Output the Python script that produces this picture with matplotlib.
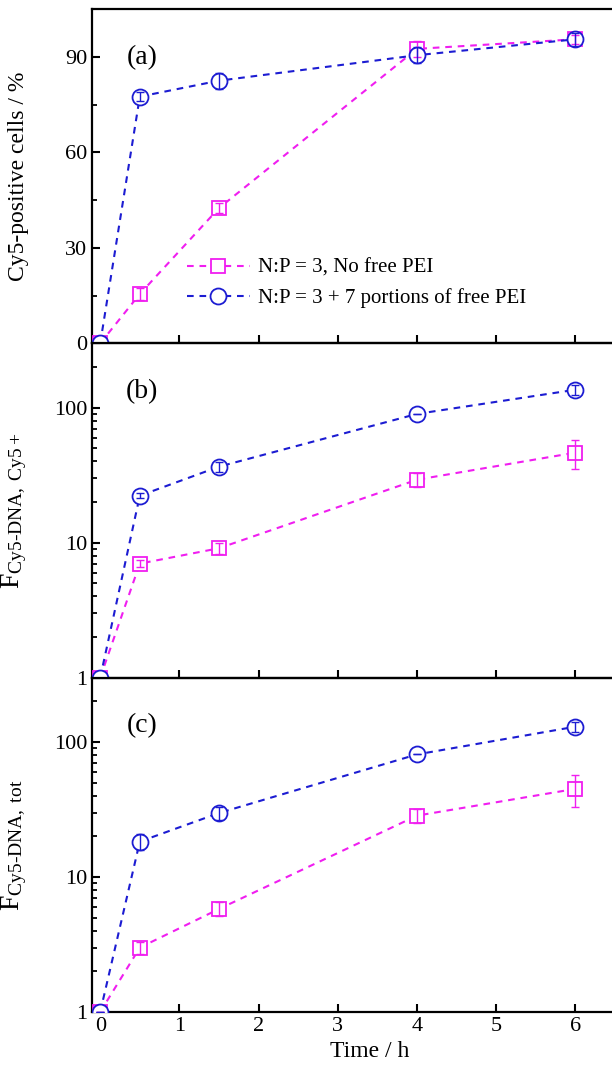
import matplotlib
matplotlib.use("Agg")
import matplotlib.pyplot as plt
from matplotlib.ticker import MultipleLocator, LogLocator, NullFormatter, FixedLocator, FuncFormatter
from matplotlib.lines import Line2D
import numpy as np

plt.rcParams['font.family'] = ['Liberation Serif', 'DejaVu Serif']
plt.rcParams['mathtext.fontset'] = 'custom'
plt.rcParams['mathtext.rm'] = 'Liberation Serif'
plt.rcParams['mathtext.it'] = 'Liberation Serif:italic'

# time points (h)
time = [0, 0.5, 1.5, 4, 6]

# (a) Cy5-positive cells / %
pos_nofree = [0, 15.5, 42.5, 92.5, 95.5]
pos_nofree_err = [0, 2.0, 1.5, 2.5, 1.5]
pos_free = [0, 77.5, 82.5, 90.5, 95.5]
pos_free_err = [0, 1.5, 2.5, 2.5, 2.0]

# (b) F Cy5-DNA, Cy5+
fpos_nofree = [1, 7.0, 9.1, 29.3, 46.5]
fpos_nofree_err = [0, 0.4, 0.8, 3.4, 11.5]
fpos_free = [1, 22.3, 36.6, 90, 136]
fpos_free_err = [0, 1.0, 3.2, 0, 11]

# (c) F Cy5-DNA, tot
ftot_nofree = [1, 3.0, 5.8, 28.5, 45]
ftot_nofree_err = [0, 0.3, 0.7, 3.5, 12]
ftot_free = [1, 18.3, 29.8, 81, 130]
ftot_free_err = [0, 2.5, 3.4, 0, 11]

labels = ["N:P = 3, No free PEI", "N:P = 3 + 7 portions of free PEI"]
magenta = '#f01ef0'
blue = '#1c1cd2'
dash = (0, (3.2, 2.8))

fig = plt.figure(figsize=(6.12, 10.76), dpi=100)
left, width, height = 0.1508, 0.906, 0.3107
bottoms = [0.6809, 0.3702, 0.0595]
axes = [fig.add_axes([left, b, width, height]) for b in bottoms]
for ax in axes:
    ax.patch.set_alpha(0)


def draw_series(ax, y, yerr, color, marker, ms):
    ax.plot(time, y, ls=dash, color=color, lw=1.5, zorder=2)
    ax.plot(time, y, ls='none', marker=marker, ms=ms, mfc='white', mec=color,
            mew=1.3, zorder=3)
    ax.errorbar(time, y, yerr=yerr, fmt='none', ecolor=color, elinewidth=1.0,
                capsize=3, capthick=1.0, zorder=4)


panels = [
    (pos_nofree, pos_nofree_err, pos_free, pos_free_err),
    (fpos_nofree, fpos_nofree_err, fpos_free, fpos_free_err),
    (ftot_nofree, ftot_nofree_err, ftot_free, ftot_free_err),
]
for ax, (y1, e1, y2, e2) in zip(axes, panels):
    draw_series(ax, y1, e1, magenta, 's', 10.5)
    draw_series(ax, y2, e2, blue, 'o', 11.5)
    ax.set_xlim(-0.1, 6.9)
    ax.xaxis.set_major_locator(MultipleLocator(1))
    ax.tick_params(which='major', direction='in', length=6, width=1.5,
                   labelsize=16, top=False, right=False)
    ax.tick_params(which='minor', direction='in', length=3.5, width=1.3,
                   top=False, right=False)
    for s in ax.spines.values():
        s.set_linewidth(1.6)
    ax.spines['right'].set_visible(False)

# (a)
ax = axes[0]
ax.set_ylim(0, 105)
ax.yaxis.set_major_locator(MultipleLocator(30))
ax.yaxis.set_minor_locator(MultipleLocator(15))
ax.set_ylabel("Cy5-positive cells / %", fontsize=17)
handles = [
    Line2D([], [], ls=dash, color=magenta, lw=1.5, marker='s', ms=10.5,
           mfc='white', mec=magenta, mew=1.3),
    Line2D([], [], ls=dash, color=blue, lw=1.5, marker='o', ms=11.5,
           mfc='white', mec=blue, mew=1.3),
]
ax.legend(handles, labels, loc='center left', bbox_to_anchor=(0.171, 0.18),
          frameon=False, fontsize=15, handlelength=3.0, handletextpad=0.4,
          borderpad=0, borderaxespad=0, labelspacing=0.5, numpoints=1)

# (b), (c) log scale
for ax in axes[1:]:
    ax.set_yscale('log')
    ax.set_ylim(1, 300)
    ax.yaxis.set_major_locator(FixedLocator([1, 10, 100]))
    ax.yaxis.set_major_formatter(FuncFormatter(lambda v, p: f"{v:g}"))
    ax.yaxis.set_minor_locator(LogLocator(base=10, subs=np.arange(2, 10)))
    ax.yaxis.set_minor_formatter(NullFormatter())

axes[1].set_ylabel(r"F$_{\mathrm{Cy5\text{-}DNA,\ Cy5+}}$", fontsize=20)
axes[2].set_ylabel(r"F$_{\mathrm{Cy5\text{-}DNA,\ tot}}$", fontsize=20)

for ax in axes[:2]:
    ax.tick_params(axis='x', labelbottom=False)
axes[2].set_xlabel("Time / h", fontsize=17, labelpad=4)

for ax, tag in zip(axes, ["(a)", "(b)", "(c)"]):
    ax.text(0.09, 0.856, tag, transform=ax.transAxes, fontsize=20,
            ha='center', va='center')

for ax in axes:
    ax.yaxis.set_label_coords(-0.115, 0.5)

fig.savefig("out.png", dpi=100)
